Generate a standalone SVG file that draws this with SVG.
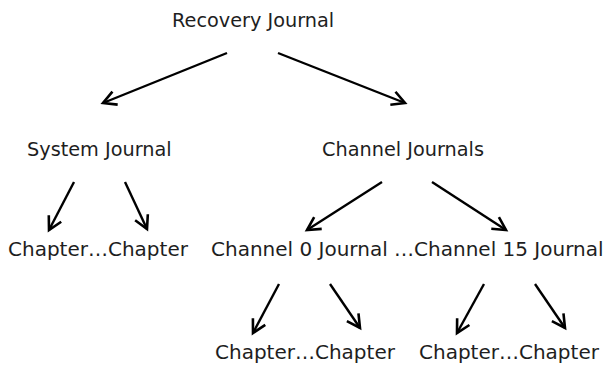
<svg xmlns="http://www.w3.org/2000/svg" width="608" height="365" viewBox="0 0 608 365">
<defs>
<style>
text{font-family:"DejaVu Sans",sans-serif;font-size:19.3px;fill:#1e1e1e}
text.r{font-size:20px}
.c line{stroke:#000;stroke-width:2.4;marker-end:url(#ah)}
</style>
<marker id="ah" markerUnits="userSpaceOnUse" markerWidth="18" markerHeight="18" refX="14" refY="9" orient="auto" viewBox="0 0 18 18">
<path d="M1,2 L14,9 L1,16" fill="none" stroke="#000" stroke-width="2.6"/>
</marker>
</defs>
<rect width="608" height="365" fill="#fff"/>
<g id="recovery"><text x="172" y="27">Recovery Journal</text></g>
<g id="system"><text x="27" y="156">System Journal</text></g>
<g id="channels"><text x="322" y="156">Channel Journals</text></g>
<g id="sys-chapters"><text class="r" x="8" y="256">Chapter…Chapter</text></g>
<g id="channel-list"><text class="r" x="211" y="256">Channel 0 Journal …Channel 15 Journal</text></g>
<g id="ch0-chapters"><text class="r" x="215" y="359">Chapter…Chapter</text></g>
<g id="ch15-chapters"><text class="r" x="419" y="359">Chapter…Chapter</text></g>
<g id="connectors" class="c">
<line x1="227" y1="53" x2="103" y2="103"/>
<line x1="278" y1="53" x2="405" y2="103"/>
<line x1="74" y1="182" x2="49" y2="230"/>
<line x1="125" y1="182" x2="147" y2="229"/>
<line x1="382" y1="182" x2="307" y2="230"/>
<line x1="432" y1="182" x2="506" y2="230"/>
<line x1="279" y1="284" x2="253" y2="333"/>
<line x1="330" y1="284" x2="360" y2="328"/>
<line x1="484" y1="284" x2="457" y2="333"/>
<line x1="535" y1="284" x2="565" y2="328"/>
</g>
</svg>
